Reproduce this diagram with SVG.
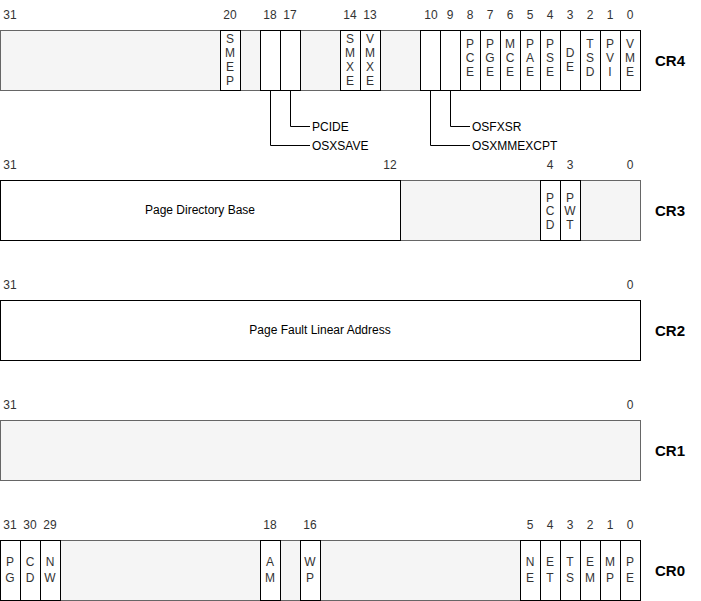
<svg xmlns="http://www.w3.org/2000/svg" width="701" height="601" viewBox="0 0 701 601">
<style>
text{font-family:"Liberation Sans",Arial,sans-serif;font-size:12px;fill:#333}
.num{text-anchor:middle}
.bg{fill:#f5f5f5;stroke:#666;stroke-width:1}
.cell{fill:#fff;stroke:#000;stroke-width:1}
.ct{text-anchor:middle}
.reg{font-size:15px;font-weight:bold;fill:#000}
.lbl{fill:#000}
.conn{fill:none;stroke:#000;stroke-width:1}
</style>
<rect width="701" height="601" fill="#fff"/>

<!-- CR4 -->
<g id="cr4">
<rect class="bg" x="0.5" y="30.5" width="640" height="60"/>
<text class="reg" x="655" y="65.5">CR4</text>
<g class="num-row">
<text class="num" x="10" y="19">31</text>
<text class="num" x="230" y="19">20</text>
<text class="num" x="270" y="19">18</text>
<text class="num" x="290" y="19">17</text>
<text class="num" x="350" y="19">14</text>
<text class="num" x="370" y="19">13</text>
<text class="num" x="431" y="19">10</text>
<text class="num" x="450" y="19">9</text>
<text class="num" x="470" y="19">8</text>
<text class="num" x="490" y="19">7</text>
<text class="num" x="510" y="19">6</text>
<text class="num" x="530" y="19">5</text>
<text class="num" x="550" y="19">4</text>
<text class="num" x="570" y="19">3</text>
<text class="num" x="590" y="19">2</text>
<text class="num" x="610" y="19">1</text>
<text class="num" x="630" y="19">0</text>
</g>
<g id="cr4-smep"><rect class="cell" x="220.5" y="30.5" width="20" height="60"/><text class="ct"><tspan x="230" y="43.3">S</tspan><tspan x="230" y="57.3">M</tspan><tspan x="230" y="71.3">E</tspan><tspan x="230" y="85.3">P</tspan></text></g>
<g id="cr4-osxsave"><rect class="cell" x="260.5" y="30.5" width="20" height="60"/></g>
<g id="cr4-pcide"><rect class="cell" x="280.5" y="30.5" width="20" height="60"/></g>
<g id="cr4-smxe"><rect class="cell" x="340.5" y="30.5" width="20" height="60"/><text class="ct"><tspan x="350" y="43.3">S</tspan><tspan x="350" y="57.3">M</tspan><tspan x="350" y="71.3">X</tspan><tspan x="350" y="85.3">E</tspan></text></g>
<g id="cr4-vmxe"><rect class="cell" x="360.5" y="30.5" width="20" height="60"/><text class="ct"><tspan x="370" y="43.3">V</tspan><tspan x="370" y="57.3">M</tspan><tspan x="370" y="71.3">X</tspan><tspan x="370" y="85.3">E</tspan></text></g>
<g id="cr4-osxmmexcpt"><rect class="cell" x="420.5" y="30.5" width="20" height="60"/></g>
<g id="cr4-osfxsr"><rect class="cell" x="440.5" y="30.5" width="20" height="60"/></g>
<g id="cr4-pce"><rect class="cell" x="460.5" y="30.5" width="20" height="60"/><text class="ct"><tspan x="470" y="48">P</tspan><tspan x="470" y="62">C</tspan><tspan x="470" y="76">E</tspan></text></g>
<g id="cr4-pge"><rect class="cell" x="480.5" y="30.5" width="20" height="60"/><text class="ct"><tspan x="490" y="48">P</tspan><tspan x="490" y="62">G</tspan><tspan x="490" y="76">E</tspan></text></g>
<g id="cr4-mce"><rect class="cell" x="500.5" y="30.5" width="20" height="60"/><text class="ct"><tspan x="510" y="48">M</tspan><tspan x="510" y="62">C</tspan><tspan x="510" y="76">E</tspan></text></g>
<g id="cr4-pae"><rect class="cell" x="520.5" y="30.5" width="20" height="60"/><text class="ct"><tspan x="530" y="48">P</tspan><tspan x="530" y="62">A</tspan><tspan x="530" y="76">E</tspan></text></g>
<g id="cr4-pse"><rect class="cell" x="540.5" y="30.5" width="20" height="60"/><text class="ct"><tspan x="550" y="48">P</tspan><tspan x="550" y="62">S</tspan><tspan x="550" y="76">E</tspan></text></g>
<g id="cr4-de"><rect class="cell" x="560.5" y="30.5" width="20" height="60"/><text class="ct"><tspan x="570" y="56.5">D</tspan><tspan x="570" y="71">E</tspan></text></g>
<g id="cr4-tsd"><rect class="cell" x="580.5" y="30.5" width="20" height="60"/><text class="ct"><tspan x="590" y="48">T</tspan><tspan x="590" y="62">S</tspan><tspan x="590" y="76">D</tspan></text></g>
<g id="cr4-pvi"><rect class="cell" x="600.5" y="30.5" width="20" height="60"/><text class="ct"><tspan x="610" y="48">P</tspan><tspan x="610" y="62">V</tspan><tspan x="610" y="76">I</tspan></text></g>
<g id="cr4-vme"><rect class="cell" x="620.5" y="30.5" width="20" height="60"/><text class="ct"><tspan x="630" y="48">V</tspan><tspan x="630" y="62">M</tspan><tspan x="630" y="76">E</tspan></text></g>
</g>

<g id="connectors">
<path class="conn" d="M270.5 90.5 V145.5 H310"/>
<path class="conn" d="M290.5 90.5 V126.5 H310"/>
<path class="conn" d="M430.5 90.5 V145.5 H470"/>
<path class="conn" d="M450.5 90.5 V126.5 H470"/>
</g>
<g id="flag-labels">
<text class="lbl" x="312" y="130.5">PCIDE</text>
<text class="lbl" x="312" y="149.5">OSXSAVE</text>
<text class="lbl" x="472" y="130.5">OSFXSR</text>
<text class="lbl" x="472" y="149.5">OSXMMEXCPT</text>
</g>

<!-- CR3 -->
<g id="cr3">
<rect class="bg" x="0.5" y="180.5" width="640" height="60"/>
<text class="reg" x="655" y="215.5">CR3</text>
<text class="num" x="10" y="169">31</text>
<text class="num" x="390" y="169">12</text>
<text class="num" x="550" y="169">4</text>
<text class="num" x="570" y="169">3</text>
<text class="num" x="630" y="169">0</text>
<g id="cr3-pdb"><rect class="cell" x="0.5" y="180.5" width="400" height="60"/><text class="ct lbl" x="200" y="214.3">Page Directory Base</text></g>
<g id="cr3-pcd"><rect class="cell" x="540.5" y="180.5" width="20" height="60"/><text class="ct"><tspan x="550" y="201.5">P</tspan><tspan x="550" y="215">C</tspan><tspan x="550" y="228.5">D</tspan></text></g>
<g id="cr3-pwt"><rect class="cell" x="560.5" y="180.5" width="20" height="60"/><text class="ct"><tspan x="570" y="201.5">P</tspan><tspan x="570" y="215">W</tspan><tspan x="570" y="228.5">T</tspan></text></g>
</g>

<!-- CR2 -->
<g id="cr2">
<rect class="cell" x="0.5" y="300.5" width="640" height="60"/>
<text class="reg" x="655" y="335.5">CR2</text>
<text class="num" x="10" y="289">31</text>
<text class="num" x="630" y="289">0</text>
<text class="ct lbl" x="320" y="334.3">Page Fault Linear Address</text>
</g>

<!-- CR1 -->
<g id="cr1">
<rect class="bg" x="0.5" y="420.5" width="640" height="60"/>
<text class="reg" x="655" y="455.5">CR1</text>
<text class="num" x="10" y="409">31</text>
<text class="num" x="630" y="409">0</text>
</g>

<!-- CR0 -->
<g id="cr0">
<rect class="bg" x="0.5" y="540.5" width="640" height="60"/>
<text class="reg" x="655" y="575.5">CR0</text>
<text class="num" x="10" y="529">31</text>
<text class="num" x="30" y="529">30</text>
<text class="num" x="50" y="529">29</text>
<text class="num" x="270" y="529">18</text>
<text class="num" x="310" y="529">16</text>
<text class="num" x="530" y="529">5</text>
<text class="num" x="550" y="529">4</text>
<text class="num" x="570" y="529">3</text>
<text class="num" x="590" y="529">2</text>
<text class="num" x="610" y="529">1</text>
<text class="num" x="630" y="529">0</text>
<g id="cr0-pg"><rect class="cell" x="0.5" y="540.5" width="20" height="60"/><text class="ct"><tspan x="10" y="566">P</tspan><tspan x="10" y="582">G</tspan></text></g>
<g id="cr0-cd"><rect class="cell" x="20.5" y="540.5" width="20" height="60"/><text class="ct"><tspan x="30" y="566">C</tspan><tspan x="30" y="582">D</tspan></text></g>
<g id="cr0-nw"><rect class="cell" x="40.5" y="540.5" width="20" height="60"/><text class="ct"><tspan x="50" y="566">N</tspan><tspan x="50" y="582">W</tspan></text></g>
<g id="cr0-am"><rect class="cell" x="260.5" y="540.5" width="20" height="60"/><text class="ct"><tspan x="270" y="566">A</tspan><tspan x="270" y="582">M</tspan></text></g>
<g id="cr0-wp"><rect class="cell" x="300.5" y="540.5" width="20" height="60"/><text class="ct"><tspan x="310" y="566">W</tspan><tspan x="310" y="582">P</tspan></text></g>
<g id="cr0-ne"><rect class="cell" x="520.5" y="540.5" width="20" height="60"/><text class="ct"><tspan x="530" y="566">N</tspan><tspan x="530" y="582">E</tspan></text></g>
<g id="cr0-et"><rect class="cell" x="540.5" y="540.5" width="20" height="60"/><text class="ct"><tspan x="550" y="566">E</tspan><tspan x="550" y="582">T</tspan></text></g>
<g id="cr0-ts"><rect class="cell" x="560.5" y="540.5" width="20" height="60"/><text class="ct"><tspan x="570" y="566">T</tspan><tspan x="570" y="582">S</tspan></text></g>
<g id="cr0-em"><rect class="cell" x="580.5" y="540.5" width="20" height="60"/><text class="ct"><tspan x="590" y="566">E</tspan><tspan x="590" y="582">M</tspan></text></g>
<g id="cr0-mp"><rect class="cell" x="600.5" y="540.5" width="20" height="60"/><text class="ct"><tspan x="610" y="566">M</tspan><tspan x="610" y="582">P</tspan></text></g>
<g id="cr0-pe"><rect class="cell" x="620.5" y="540.5" width="20" height="60"/><text class="ct"><tspan x="630" y="566">P</tspan><tspan x="630" y="582">E</tspan></text></g>
</g>
</svg>
